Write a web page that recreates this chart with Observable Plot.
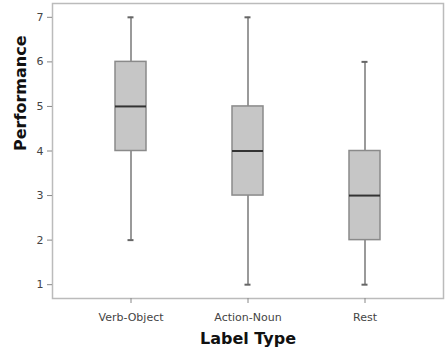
<!DOCTYPE html>
<html>
<head>
<meta charset="utf-8">
<script src="https://cdn.jsdelivr.net/npm/d3@7"></script>
<script src="https://cdn.jsdelivr.net/npm/@observablehq/plot@0.6"></script>
<style>
  html, body { margin: 0; padding: 0; background: #fff; }
  #chart svg { display: block; }
</style>
</head>
<body>
<div id="chart"></div>
<script>
const categories = ["Verb-Object", "Action-Noun", "Rest"];
const mins    = [2, 1, 1];
const q1s     = [4, 3, 2];
const medians = [5, 4, 3];
const q3s     = [6, 5, 4];
const maxs    = [7, 7, 6];
const yTicks  = [1, 2, 3, 4, 5, 6, 7];

const data = categories.map((c, i) => ({
  cat: c, min: mins[i], q1: q1s[i], med: medians[i], q3: q3s[i], max: maxs[i]
}));

const chart = Plot.plot({
  width: 445,
  height: 354,
  marginLeft: 52,
  marginTop: 3,
  marginRight: 2,
  marginBottom: 56,
  style: { fontFamily: "DejaVu Sans, sans-serif", fontSize: "10px", color: "#555", background: "#fff" },
  x: { domain: categories, paddingInner: 0.736, paddingOuter: 0.532, label: null, tickSize: 5 },
  y: { domain: [0.69, 7.31], ticks: yTicks, tickSize: 5, label: null, tickFormat: d3.format("d") },
  marks: [
    Plot.frame({ stroke: "#bbb", strokeWidth: 1.5 }),
    Plot.ruleX(data, { x: "cat", y1: "min", y2: "max", stroke: "#9a9a9a", strokeWidth: 2 }),
    Plot.barY(data, { x: "cat", y1: "q1", y2: "q3", fill: "#c6c6c6", stroke: "#8a8a8a", strokeWidth: 1.5 }),
    Plot.tickY(data, { x: "cat", y: "med", stroke: "#333", strokeWidth: 2 }),
    Plot.tickY(data, { x: "cat", y: "min", stroke: "#666", strokeWidth: 2, insetLeft: 12.5, insetRight: 12.5 }),
    Plot.tickY(data, { x: "cat", y: "max", stroke: "#666", strokeWidth: 2, insetLeft: 12.5, insetRight: 12.5 }),
    Plot.axisX({ tickSize: 5, stroke: "#888", fontSize: 11, label: null, tickPadding: 10, fill: "#444" }),
    Plot.axisY({ ticks: yTicks, tickSize: 5, stroke: "#888", fontSize: 11, label: null, tickFormat: d3.format("d"), fill: "#444" }),
    Plot.text(["Label Type"], { frameAnchor: "bottom", dy: 45, fontSize: 16, fontWeight: "bold", fill: "#111" }),
    Plot.text(["Performance"], { frameAnchor: "left", dx: -32, rotate: -90, fontSize: 16, fontWeight: "bold", fill: "#111" })
  ]
});
document.getElementById("chart").appendChild(chart);
</script>
</body>
</html>
